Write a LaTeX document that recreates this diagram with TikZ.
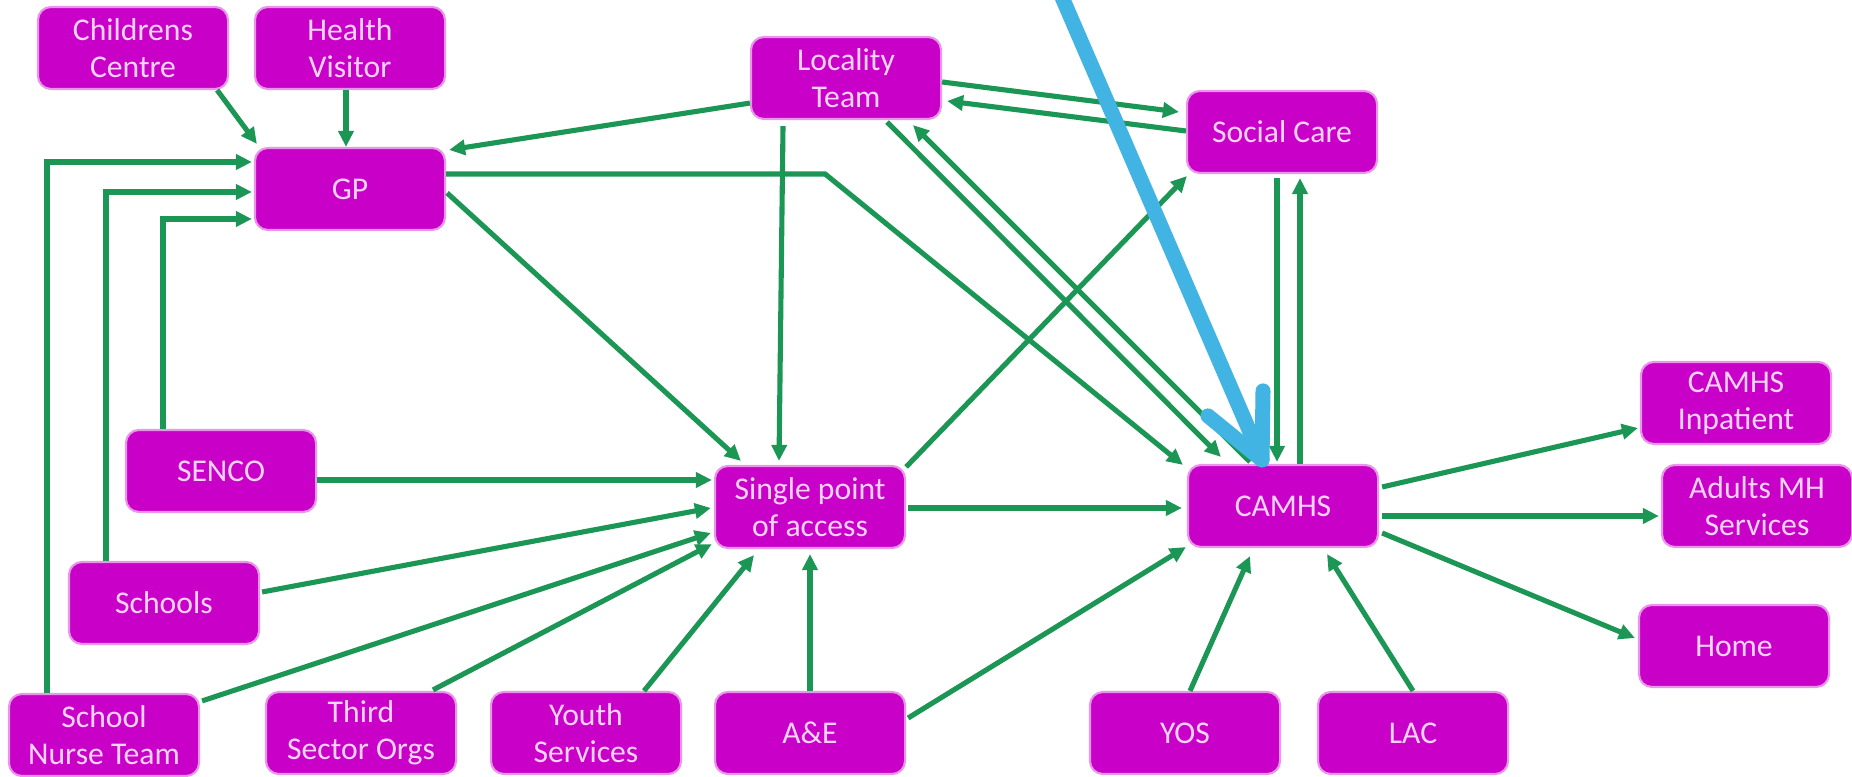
\documentclass[tikz,border=0pt]{standalone}
\usepackage{fontspec}
\setmainfont{Carlito}
\usetikzlibrary{arrows.meta,calc}
\definecolor{boxfill}{RGB}{200,0,200}
\definecolor{boxedge}{RGB}{232,150,232}
\definecolor{boxtext}{RGB}{250,212,250}
\definecolor{linkgreen}{RGB}{28,150,85}
\definecolor{pinblue}{RGB}{65,180,228}

\begin{document}
\begin{tikzpicture}[x=0.01cm, y=-0.01cm,
    box/.style = {rounded corners=0.13cm, fill=boxfill, draw=boxedge, line width=0.6pt, minimum width=1.9cm, minimum height=0.82cm, inner sep=0pt, align=center, text=boxtext, font=\fontsize{9}{10.6}\selectfont},
    link/.style = {draw=linkgreen, line width=1.45pt, -{Triangle[length=0.16cm, width=0.15cm]}}]

        \fill[white] (0,0) rectangle (1852,777);
        \useasboundingbox (0,0) rectangle (1852,777);

        \node[box] (cc) at (133,48) {Childrens\\Centre};
        \node[box] (hv) at (350,48) {Health\\Visitor};
        \node[box] (gp) at (350,189) {GP};
        \node[box] (loc) at (846,78) {Locality\\Team};
        \node[box] (soc) at (1282,132) {Social Care};
        \node[box] (senco) at (221,471) {SENCO};
        \node[box] (spa) at (810,507) {Single point\\of access};
        \node[box] (camhs) at (1283,506) {CAMHS};
        \node[box] (inpat) at (1736,403) {CAMHS\\Inpatient};
        \node[box] (adult) at (1757,506) {Adults MH\\Services};
        \node[box] (home) at (1734,646) {Home};
        \node[box] (schools) at (164,603) {Schools};
        \node[box] (snt) at (104,735) {School\\Nurse Team};
        \node[box] (third) at (361,733) {Third\\Sector Orgs};
        \node[box] (youth) at (586,733) {Youth\\Services};
        \node[box] (ae) at (810,733) {A\&E};
        \node[box] (yos) at (1185,733) {YOS};
        \node[box] (lac) at (1413,733) {LAC};

        % into GP
        \draw[link] ($(cc.south east)+(-12,0)$) -- ($(gp.north west)+(3,-3)$);
        \draw[link] ($(hv.south)+(-4,0)$) -- ($(gp.north)+(-4,0)$);
        \draw[link] ($(loc.south west)+(0,-17)$) -- ($(gp.north east)+(3,3)$);
        \draw[link] ($(snt.north)+(-57,0)$) |- ($(gp.west)+(-2,-27)$);
        \draw[link] ($(schools.north)+(-58,0)$) |- ($(gp.west)+(-2,3)$);
        \draw[link] ($(senco.north)+(-58,0)$) |- ($(gp.west)+(-2,30)$);

        % GP and Locality Team out
        \draw[link] ($(gp.east)+(0,-15)$) -- ++(379,0) -- ($(camhs.north west)+(-4,1)$);
        \draw[link] ($(gp.east)+(1,4)$) -- ($(spa.north west)+(27,-4)$);
        \draw[link] ($(loc.south)+(-63,6)$) -- ($(spa.north)+(-31,-4)$);
        \draw[link] ($(loc.east)+(0,4)$) -- ($(soc.west)+(-7,-20)$);
        \draw[link] ($(soc.west)+(0,-1)$) -- ($(loc.east)+(5,23)$);
        \draw[link] ($(loc.south)+(41,2)$) -- ($(camhs.north west)+(34,-7)$);
        \draw[link] ($(camhs.north)+(-33,-2)$) -- ($(loc.south)+(67,5)$);
        \draw[link] ($(soc.south)+(-5,4)$) -- ($(camhs.north)+(-6,-2)$);
        \draw[link] ($(camhs.north)+(17,0)$) -- ($(soc.south)+(18,4)$);

        % into Single point of access
        \draw[link] ($(spa.north east)+(0,2)$) -- ($(soc.south west)+(1,2)$);
        \draw[link] ($(senco.east)+(0,9)$) -- ($(spa.west)+(-2,-27)$);
        \draw[link] ($(schools.east)+(2,-11)$) -- ($(spa.west)+(-3,1)$);
        \draw[link] ($(snt.north east)+(2,8)$) -- ($(spa.west)+(-3,26)$);
        \draw[link] ($(third.north)+(72,-1)$) -- ($(spa.south west)+(-2,-5)$);
        \draw[link] ($(youth.north)+(58,0)$) -- ($(spa.south)+(-56,6)$);
        \draw[link] (ae.north) -- ($(spa.south)+(0,5)$);

        % around CAMHS
        \draw[link] ($(ae.east)+(2,-15)$) -- ($(camhs.south west)+(-1,-1)$);
        \draw[link] ($(spa.east)+(2,1)$) -- ($(camhs.west)+(-5,2)$);
        \draw[link] ($(yos.north)+(5,0)$) -- ($(camhs.south)+(-33,8)$);
        \draw[link] (lac.north) -- ($(camhs.south)+(44,6)$);
        \draw[link] ($(camhs.east)+(3,-19)$) -- ($(inpat.west)+(-2,25)$);
        \draw[link] ($(camhs.east)+(3,10)$) -- ($(adult.west)+(-2,10)$);
        \draw[link] ($(camhs.east)+(3,27)$) -- ($(home.west)+(-3,-8)$);

        % blue pointer
        \coordinate (pintop) at (1058,-12);
        \coordinate (pin) at ($(camhs.north)+(-21,-4)$);
        \draw[pinblue, line width=0.15cm, line cap=round] (pintop) -- (pin);
        \draw[pinblue, line width=0.15cm, line cap=round, line join=round] ($(pin)+(-54,-44)$) -- (pin) -- ($(pin)+(1,-69)$);

    \end{tikzpicture}
\end{document}
